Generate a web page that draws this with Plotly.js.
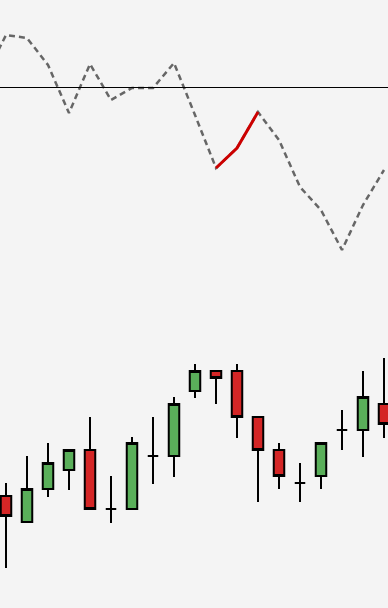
<!DOCTYPE html>
<html>
<head>
<meta charset="utf-8">
<script src="https://cdn.plot.ly/plotly-3.0.1.min.js"></script>
<style>html,body{margin:0;padding:0;background:#f4f4f4;}#chart{width:388px;height:608px;}</style>
</head>
<body>
<div id="chart"></div>
<script>
// Candlestick data (index positions)
const candleX = [0,1,2,3,4,5,6,7,8,9,10,11,12,13,14,15,16,17,18];
const openVals  = [52, 39, 55.5, 65, 75, 45.5, 45.5, 72, 72, 104.5, 114.5, 114.5, 91.5, 75, 58.5, 62, 85, 85, 98];
const highVals  = [58.5, 72, 78.5, 75, 91.5, 62, 81.5, 91.5, 101.5, 118, 114.5, 118, 91.5, 78.5, 68.5, 78.5, 95, 114.5, 121];
const lowVals   = [16, 39, 51.5, 55, 45.5, 38.5, 45.5, 58, 61.5, 101, 98, 81, 49, 55.5, 49, 55.5, 75, 71.5, 81];
const closeVals = [42, 55.5, 68.5, 75, 45.5, 45.5, 78.5, 72, 98, 114.5, 111, 91.5, 75, 62, 58.5, 78.5, 85, 101.5, 88];

// Indicator line (top panel)
const lineX = [-1,0,1,2,3,4,5,6,7,8,9,10,11,12,13,14,15,16,17,18];
const lineVals = [5, 26, 24.5, 11, -13, 11.5, -6.5, -0.5, -0.5, 12, -14, -40.5, -30.5, -12.5, -26.5, -50, -61.5, -81.5, -59, -41.5];
// Highlighted segment
const highlightX = [10, 11, 12];
const highlightVals = [-40.5, -30.5, -12.5];
const refLevel = -0.25;

const traces = [
  {
    type: 'scatter', mode: 'lines', x: lineX, y: lineVals, yaxis: 'y',
    line: {color: '#666666', width: 2.5, dash: '6px,4px'}, hoverinfo: 'skip'
  },
  {
    type: 'scatter', mode: 'lines', x: highlightX, y: highlightVals, yaxis: 'y',
    line: {color: '#cc0000', width: 3}, hoverinfo: 'skip'
  },
  {
    type: 'candlestick', x: candleX, open: openVals, high: highVals, low: lowVals, close: closeVals,
    yaxis: 'y2', whiskerwidth: 0,
    increasing: {line: {color: '#000000', width: 2}, fillcolor: '#5aaf5a'},
    decreasing: {line: {color: '#000000', width: 2}, fillcolor: '#d42626'},
    hoverinfo: 'skip'
  }
];

const layout = {
  width: 388, height: 608,
  margin: {l: 0, r: 0, t: 0, b: 0},
  paper_bgcolor: '#f4f4f4', plot_bgcolor: '#f4f4f4',
  showlegend: false,
  boxgap: 0.5,
  boxgroupgap: 0,
  xaxis: {range: [-0.2857, 18.1905], visible: false, rangeslider: {visible: false}, fixedrange: true},
  yaxis: {range: [-260.5, 43.5], visible: false, fixedrange: true},
  yaxis2: {range: [-4, 300], overlaying: 'y', visible: false, fixedrange: true},
  shapes: [{type: 'line', xref: 'paper', x0: 0, x1: 1, yref: 'y', y0: refLevel, y1: refLevel,
            line: {color: '#000000', width: 1}}]
};

Plotly.newPlot('chart', traces, layout, {staticPlot: true, displayModeBar: false});
</script>
</body>
</html>
